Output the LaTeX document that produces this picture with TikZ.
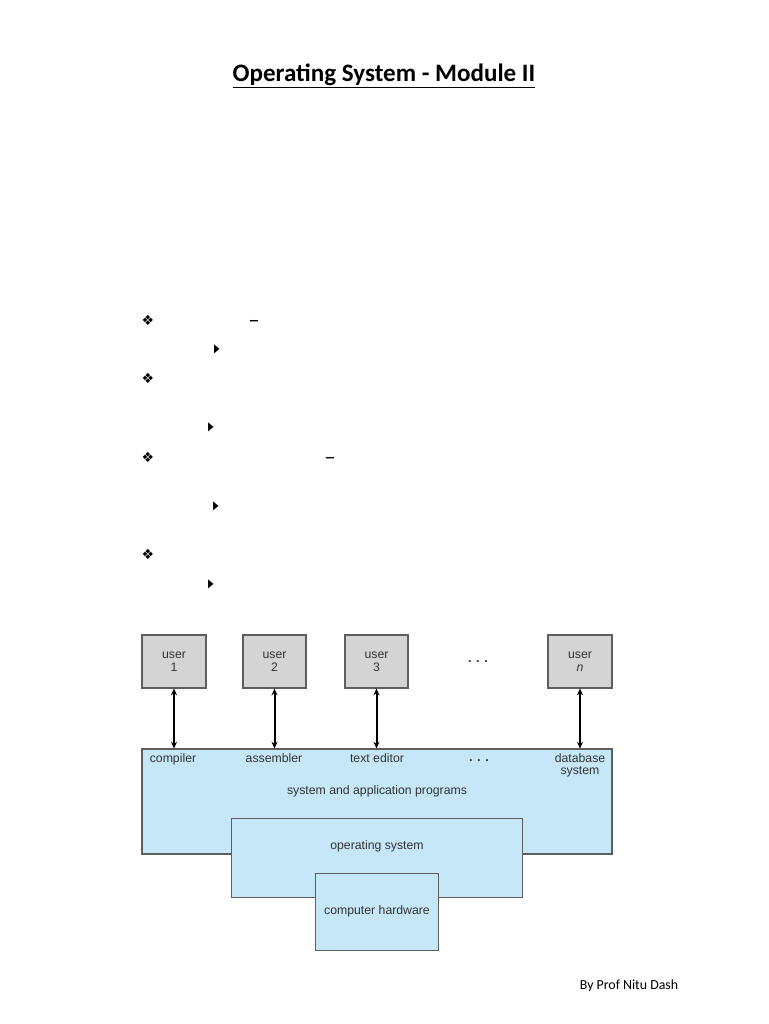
\documentclass[tikz,border=0pt]{standalone}
\usepackage{fontspec}
\setmainfont{Carlito}
\newfontfamily\diagfont{Liberation Sans}
\newfontfamily\symfont{DejaVu Sans}
\usetikzlibrary{arrows.meta}
\definecolor{boxblue}{HTML}{C6E7F8}
\definecolor{usergray}{HTML}{D4D4D4}
\definecolor{edgegray}{HTML}{5E5E5E}
\definecolor{txtgray}{HTML}{333333}
\tikzset{
  userbox/.style={draw=edgegray, line width=0.9pt, fill=usergray, minimum width=48pt, minimum height=39.75pt, inner sep=0pt, align=center, font=\diagfont\fontsize{9.2}{9.6}\selectfont, text=txtgray},
  layerbox/.style={draw=edgegray, line width=0.8pt, fill=boxblue, inner sep=0pt},
  lbl/.style={font=\diagfont\fontsize{9.2}{9}\selectfont, text=txtgray, inner sep=0pt, align=center},
  one/.style={text height=6.6pt, text depth=1.9pt},
  link/.style={{Stealth[length=5pt,width=4.5pt]}-{Stealth[length=5pt,width=4.5pt]}, line width=1.5pt, black},
  diam/.style={font=\symfont\fontsize{10.5}{10.5}\selectfont, inner sep=0pt},
  tri/.style={font=\symfont\fontsize{9}{9}\selectfont, inner sep=0pt},
  dashmark/.style={font=\fontsize{17}{17}\selectfont, inner sep=0pt}
}
\newcommand{\trimark}{\scalebox{0.6}[1]{▶}}
\begin{document}
\begin{tikzpicture}[x=0.75pt,y=-0.75pt]
\useasboundingbox (0,0) rectangle (768,1024);
% title
\node[inner sep=0pt, font=\bfseries\fontsize{18.8}{22}\selectfont] (title) at (384,76) {\underline{Operating System - Module II}};
% bullets
\node[diam] (b1) at (148,320) {❖};
\node[diam] (b2) at (148,378) {❖};
\node[diam] (b3) at (148,457) {❖};
\node[diam] (b4) at (148,554) {❖};
\node[tri] (t1) at (217,349) {\trimark};
\node[tri] (t2) at (211,427) {\trimark};
\node[tri] (t3) at (216,506) {\trimark};
\node[tri] (t4) at (211,584) {\trimark};
\node[dashmark] (d1) at (254,324) {–};
\node[dashmark] (d2) at (330,461) {–};
% users
\node[userbox] (u1) at (174,661.5) {user\\1};
\node[userbox, minimum width=47.25pt] (u2) at (274.5,661.5) {user\\2};
\node[userbox, minimum width=47.25pt] (u3) at (376.5,661.5) {user\\3};
\node[userbox] (un) at (580,661.5) {user\\\textit{n}};
\node[lbl, font=\diagfont\bfseries\fontsize{9.5}{9}\selectfont] (udots) at (478,662) {. . .};
% layers
\node[layerbox, minimum width=352.5pt, minimum height=78.75pt] (sys) at (377,801.5) {};
\node[layerbox, minimum width=218.25pt, minimum height=59.25pt] (os) at (377,858.4) {};
\node[layerbox, minimum width=92.25pt, minimum height=57.75pt] (hw) at (377,911.7) {};
% labels
\node[lbl, one] (compiler) at (173,759) {compiler};
\node[lbl, one] (assembler) at (274,759) {assembler};
\node[lbl, one] (editor) at (377,759) {text editor};
\node[lbl, font=\diagfont\bfseries\fontsize{9.5}{9}\selectfont] (pdots) at (479,761) {. . .};
\node[lbl] (dbs) at (580,765) {database\\system};
\node[lbl, one] (sap) at (377,791) {system and application programs};
\node[lbl, one] (oslbl) at (377,846) {operating system};
\node[lbl, one] (hwlbl) at (377,911.7) {computer hardware};
% connectors
\draw[link] (u1.south) -- (u1.south |- sys.north);
\draw[link] (u2.south) -- (u2.south |- sys.north);
\draw[link] (u3.south) -- (u3.south |- sys.north);
\draw[link] (un.south) -- (un.south |- sys.north);
% footer
\node[inner sep=0pt, font=\fontsize{10.4}{13}\selectfont] (footer) at (629,986) {By Prof Nitu Dash};
\end{tikzpicture}
\end{document}
